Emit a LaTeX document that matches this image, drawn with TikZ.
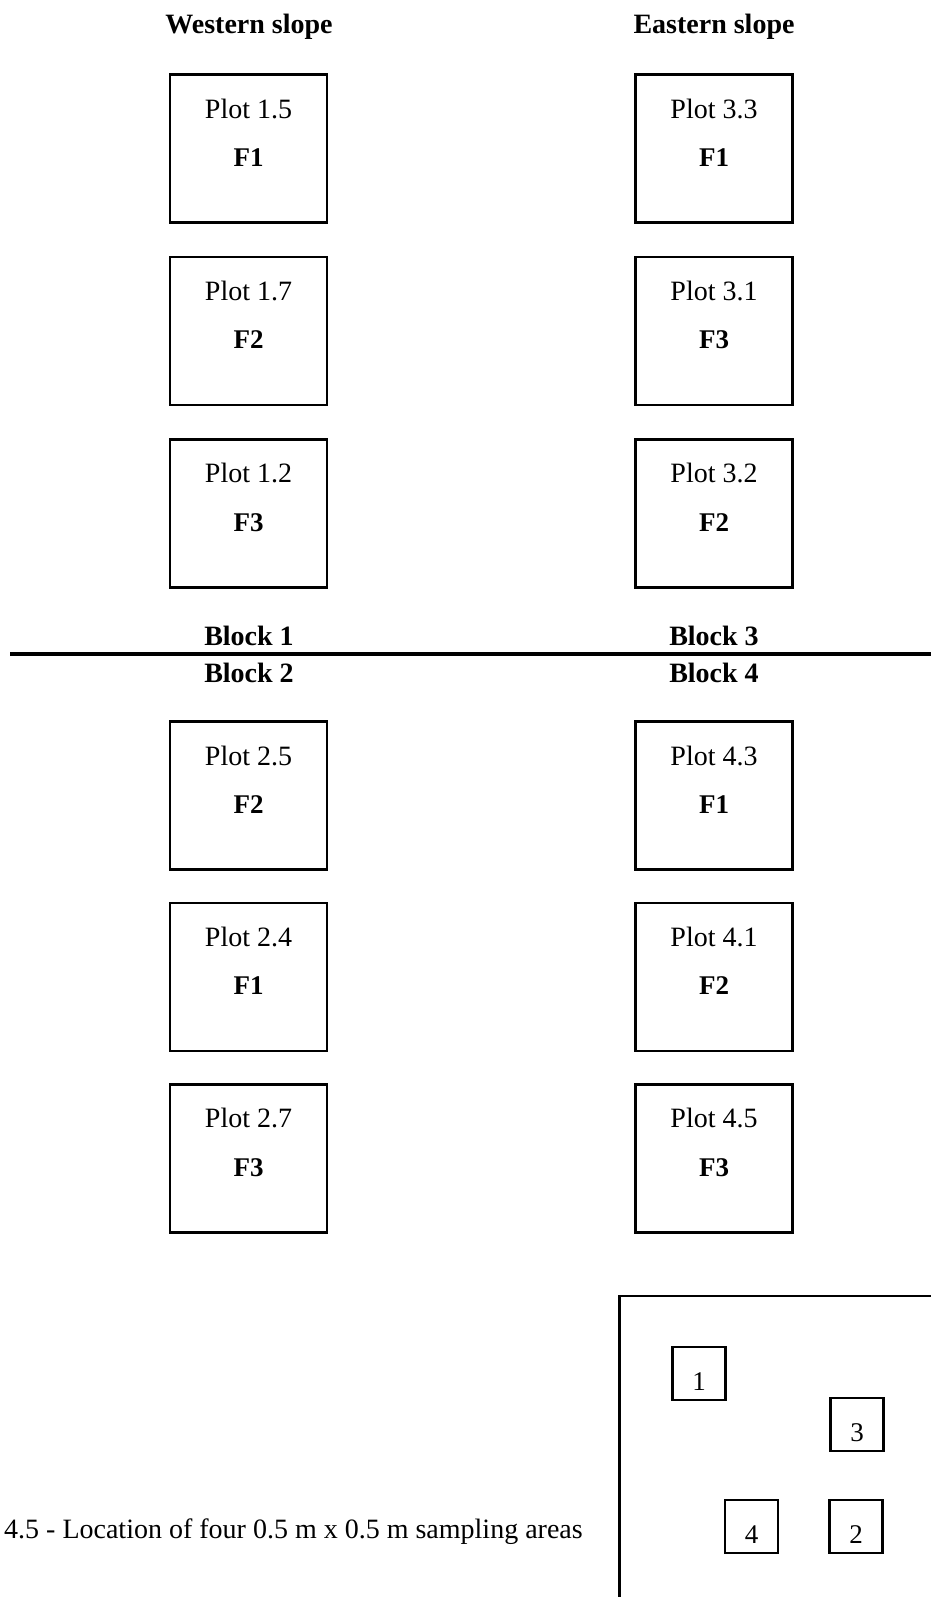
\documentclass[tikz,border=0pt]{standalone}
\usepackage{fontspec}
\setmainfont{Liberation Serif}
\begin{document}
\begin{tikzpicture}[x=1pt,y=-1pt,
  plotbox/.style={draw, line width=2.6pt, minimum width=157pt, minimum height=148pt, inner sep=0pt},
  ptxt/.style={font=\fontsize{28}{32}\selectfont, inner sep=0pt},
  ftxt/.style={font=\fontsize{27}{31}\selectfont\bfseries, inner sep=0pt},
  head/.style={font=\fontsize{28}{32}\selectfont\bfseries, inner sep=0pt},
  sampbox/.style={draw, line width=2.6pt, minimum size=53pt, inner sep=0pt},
  stxt/.style={font=\fontsize{27}{31}\selectfont, inner sep=0pt},
  divider/.style={line width=4pt},
  fieldline/.style={line width=2.6pt}]
\useasboundingbox (0,0) rectangle (931,1597);

% headings
\node[head] (west) at (249,27) {Western slope};
\node[head] (east) at (714,27) {Eastern slope};

% plot boxes
\foreach \nm/\cx/\cy/\pl/\f in {
  p15/248.5/148.8/1.5/F1, p17/248.5/331/1.7/F2, p12/248.5/513.4/1.2/F3,
  p33/714/148.8/3.3/F1, p31/714/331/3.1/F3, p32/714/513.4/3.2/F2,
  p25/248.5/795.5/2.5/F2, p24/248.5/977/2.4/F1, p27/248.5/1158.2/2.7/F3,
  p43/714/795.5/4.3/F1, p41/714/977/4.1/F2, p45/714/1158.2/4.5/F3}{
  \node[plotbox] (\nm) at (\cx,\cy) {};
  \node[ptxt] (\nm t) at ([yshift=40pt]\nm.center) {Plot \pl};
  \node[ftxt] (\nm f) at ([yshift=-9pt]\nm.center) {\f};
}

% block labels and divider
\node[head] (b1) at (249,636) {Block 1};
\node[head] (b3) at (714,636) {Block 3};
\node[head] (b2) at (249,673) {Block 2};
\node[head] (b4) at (714,673) {Block 4};
\coordinate (dl) at (10,654);
\coordinate (dr) at (931,654);
\draw[divider] (dl) -- (dr);

% sampling layout
\coordinate (fbl) at (619.5,1597);
\coordinate (ftl) at (619.5,1296);
\coordinate (ftr) at (931,1296);
\draw[fieldline] (fbl) -- (ftl) -- (ftr);
\node[sampbox] (s1) at (699,1373.5) {};
\node[sampbox] (s3) at (857,1424.5) {};
\node[sampbox] (s4) at (751.5,1526.5) {};
\node[sampbox] (s2) at (856,1526.5) {};
\node[stxt] (s1t) at ([yshift=-8pt]s1.center) {1};
\node[stxt] (s3t) at ([yshift=-8pt]s3.center) {3};
\node[stxt] (s4t) at ([yshift=-8pt]s4.center) {4};
\node[stxt] (s2t) at ([yshift=-8pt]s2.center) {2};

% caption
\node[ptxt, anchor=west] (cap) at (4,1532) {4.5 - Location of four 0.5 m x 0.5 m sampling areas};
\end{tikzpicture}
\end{document}
